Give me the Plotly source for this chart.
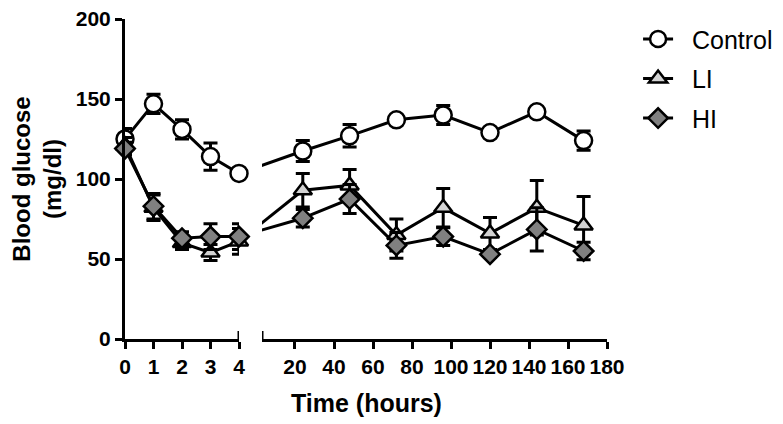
import plotly.graph_objects as go

# time points (hours)
t_early = [0, 1, 2, 3, 4]
t_late = [24, 48, 72, 96, 120, 144, 168]

# mean blood glucose (mg/dl) and error
control_early = [125, 147, 131, 114, 103.5]
control_early_err = [6.5, 6, 6, 8.5, 2]
control_late = [117.5, 127, 137, 140, 129, 142, 124]
control_late_err = [6.5, 7, 2, 6, 2, 2, 6]

li_early = [121, 82, 60, 54, 61]
li_early_err = [5, 8, 4, 5, 8]
li_late = [93, 96, 65, 82, 66, 82, 71]
li_late_err = [10.5, 10, 10, 12, 10, 17, 18]

hi_early = [119, 83, 63, 64, 64]
hi_early_err = [4, 8, 4, 8, 8]
hi_late = [75.5, 87.5, 58.5, 64, 53, 68.5, 55]
hi_late_err = [5.5, 9, 8, 5.5, 2, 13.5, 5.5]

# page body has an 8px margin, so the figure is made 8px smaller each way
W, H = 775, 416
ml, mr, mt, mb = 117, 176, 11, 85
pw = W - ml - mr

dom1 = [0, 114 / pw]
dom2 = [137 / pw, 1]
x2_range = [3.08, 180]

# x2 coordinate where the 4 h point sits (pixel position of the left segment end)
px_per_unit2 = (dom2[1] - dom2[0]) * pw / (x2_range[1] - x2_range[0])
x4_on_x2 = x2_range[0] - (dom2[0] - dom1[1]) * pw / px_per_unit2

FONT = "Liberation Sans"
series = [
    ("Control", control_early, control_early_err, control_late, control_late_err, "circle", "white", 17),
    ("LI", li_early, li_early_err, li_late, li_late_err, "triangle-up", "#d3d3d3", 16),
    ("HI", hi_early, hi_early_err, hi_late, hi_late_err, "diamond", "#808080", 15),
]

fig = go.Figure()
for name, ye, ee, yl, el, sym, fill, sz in series:
    mk = dict(symbol=sym, size=sz, color=fill, line=dict(color="black", width=2.5))
    err = dict(color="black", thickness=3, width=7)
    fig.add_trace(go.Scatter(
        x=t_early, y=ye, mode="lines+markers", name="\u00a0\u00a0" + name, legendgroup=name,
        line=dict(color="black", width=3), marker=mk, cliponaxis=False,
        error_y=dict(type="data", array=ee, **err), xaxis="x", yaxis="y"))
    # bridge across the axis break
    fig.add_trace(go.Scatter(
        x=[x4_on_x2, t_late[0]], y=[ye[-1], yl[0]], mode="lines", showlegend=False,
        line=dict(color="black", width=3), xaxis="x2", yaxis="y", hoverinfo="skip"))
    fig.add_trace(go.Scatter(
        x=t_late, y=yl, mode="lines+markers", name=name, legendgroup=name, showlegend=False,
        line=dict(color="black", width=3), marker=mk, cliponaxis=False,
        error_y=dict(type="data", array=el, **err), xaxis="x2", yaxis="y"))

tickfont = dict(family=FONT, size=21, color="black", weight="bold")
axis_common = dict(showgrid=False, zeroline=False, showline=True, linecolor="black", linewidth=3,
                   ticks="outside", ticklen=7, tickwidth=3, tickcolor="black", tickfont=tickfont,
                   automargin=False, ticklabeloverflow="allow")

fig.update_layout(
    width=W, height=H, margin=dict(l=ml, r=mr, t=mt, b=mb, autoexpand=False),
    plot_bgcolor="white", paper_bgcolor="white",
    xaxis=dict(domain=dom1, range=[0, 4], tickvals=t_early, anchor="y", **axis_common),
    xaxis2=dict(domain=dom2, range=x2_range, tickvals=list(range(20, 181, 20)), anchor="y", **axis_common),
    yaxis=dict(range=[0, 200.01], tickvals=[0, 50, 100, 150, 200], anchor="x",
               title=dict(text="Blood glucose<br>(mg/dl)", standoff=12,
                          font=dict(family=FONT, size=24, color="black", weight="bold")),
               **axis_common),
    legend=dict(xref="container", yref="container", x=0.813, y=0.98, xanchor="left", yanchor="top",
                traceorder="grouped", tracegroupgap=4,
                font=dict(family=FONT, size=25, color="black"), bgcolor="rgba(0,0,0,0)"),
    showlegend=True,
)

# axis break caps
fig.add_shape(type="line", xref="x", x0=4, x1=4, yref="y", ysizemode="pixel", yanchor=0,
              y0=-8, y1=8, line=dict(color="black", width=3))
fig.add_shape(type="line", xref="x2", x0=x2_range[0], x1=x2_range[0], yref="y", ysizemode="pixel",
              yanchor=0, y0=-8, y1=8, line=dict(color="black", width=3))

fig.add_annotation(text="Time (hours)", xref="paper", yref="paper", x=0.5, y=0, yshift=-48,
                   showarrow=False, yanchor="top",
                   font=dict(family=FONT, size=25, color="black", weight="bold"))

fig.write_html("out.html")
